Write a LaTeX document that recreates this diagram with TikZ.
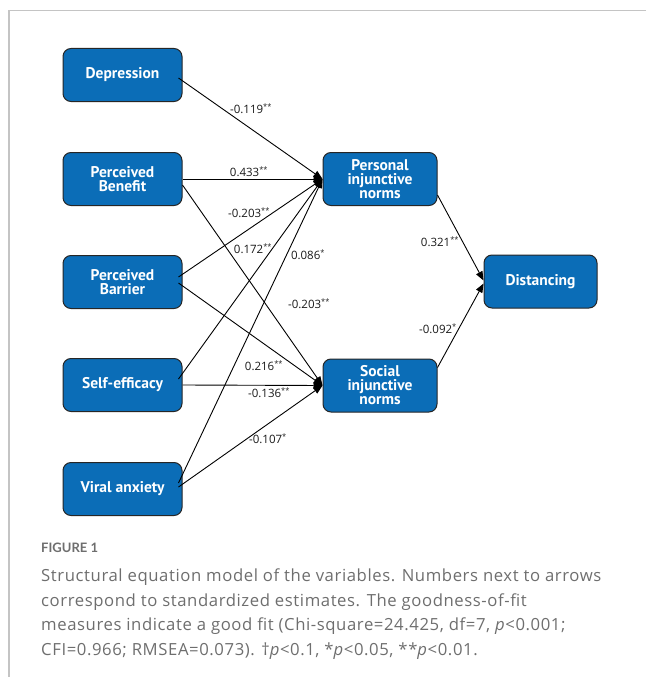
\documentclass[tikz,border=0pt]{standalone}
\usepackage{fontspec}
\setmainfont{Open Sans}
\newfontfamily\boxfont{PT Sans}
\newfontfamily\labfont{Open Sans}
\newfontfamily\figfont{Lato}
\newfontfamily\capfont[LetterSpace=3.5]{Open Sans}
\usetikzlibrary{arrows.meta,calc}
\definecolor{boxblue}{HTML}{0B6DB7}
\definecolor{framegray}{HTML}{C4C4C4}
\definecolor{capgray}{HTML}{6E6E6E}
\tikzset{
  box/.style={draw=black!85, line width=1pt, fill=boxblue, rounded corners=8pt,
    minimum width=119pt, minimum height=53pt, text=white, align=center, inner sep=0pt,
    font=\boxfont\bfseries\fontsize{15.5}{14}\selectfont},
  arr/.style={line width=0.9pt, -{Triangle[length=9pt,width=7pt]}},
  lab/.style={font=\labfont\fontsize{11.5}{13}\selectfont, inner sep=1pt, text=black!90}
}
\newcommand{\st}[1]{\textsuperscript{\fontsize{7.5}{8}\selectfont #1}}
\begin{document}
\begin{tikzpicture}[x=1pt,y=-1pt]
\useasboundingbox (0,0) rectangle (646,677);
\draw[framegray, line width=1.2pt] (646,10.5) -- (9,10.5) -- (9,677);

\node[box] (dep) at (122.5,75) {Depression};
\node[box] (ben) at (122.5,179) {Perceived\\Benefit};
\node[box] (bar) at (122.5,282) {Perceived\\Barrier};
\node[box] (sef) at (122.5,385) {Self-efficacy};
\node[box] (vir) at (122.5,489) {Viral anxiety};
\node[box, minimum width=114pt] (per) at (380,179) {Personal\\injunctive\\norms};
\node[box, minimum width=114pt] (soc) at (380,385.5) {Social\\injunctive\\norms};
\node[box, minimum width=113pt] (dis) at (540.5,281.5) {Distancing};

\draw[arr] ($(dep.east)+(-4,3)$) -- (per.west);
\draw[arr] (ben.east) -- (per.west);
\draw[arr] ($(ben.east)+(0,6)$) -- (soc.west);
\draw[arr] ($(bar.east)+(-4,-5)$) -- (per.west);
\draw[arr] ($(bar.east)+(-4,1)$) -- (soc.west);
\draw[arr] ($(sef.east)+(-4,-6)$) -- (per.west);
\draw[arr] (sef.east) -- (soc.west);
\draw[arr] ($(vir.east)+(-4,-6)$) -- (per.west);
\draw[arr] ($(vir.east)+(-4,-2)$) -- (soc.west);
\draw[arr] ($(per.east)+(0,16)$) -- ($(dis.west)+(0,-1)$);
\draw[arr] ($(soc.east)+(0,-18)$) -- ($(dis.west)+(0,2)$);

\node[lab] (l1) at (251,109) {-0.119\st{**}};
\node[lab] (l2) at (249,172) {0.433\st{**}};
\node[lab] (l3) at (249,213) {-0.203\st{**}};
\node[lab] (l4) at (253,249) {0.172\st{**}};
\node[lab] (l5) at (308,255) {0.086\st{*}};
\node[lab] (l6) at (309,304) {-0.203\st{**}};
\node[lab] (l7) at (264,366) {0.216\st{**}};
\node[lab] (l8) at (269,393) {-0.136\st{**}};
\node[lab] (l9) at (268,439) {-0.107\st{*}};
\node[lab] (l10) at (440,242) {0.321\st{**}};
\node[lab] (l11) at (438,329) {-0.092\st{*}};

\node[anchor=west, text=capgray, font=\figfont\bfseries\fontsize{13}{14}\selectfont, inner sep=0pt] (fig) at (41,548) {FIGURE 1};
\node[anchor=north west, text=capgray, align=left, inner sep=0pt,
  font=\capfont\fontsize{16.7}{24.5}\selectfont] (cap) at (41,569) {Structural equation model of the variables. Numbers next to arrows\\
correspond to standardized estimates. The goodness-of-fit\\
measures indicate a good fit (Chi-square=24.425, df=7, \textit{p}<0.001;\\
CFI=0.966; RMSEA=0.073). \textdagger\textit{p}<0.1, *\textit{p}<0.05, **\textit{p}<0.01.};
\end{tikzpicture}
\end{document}
